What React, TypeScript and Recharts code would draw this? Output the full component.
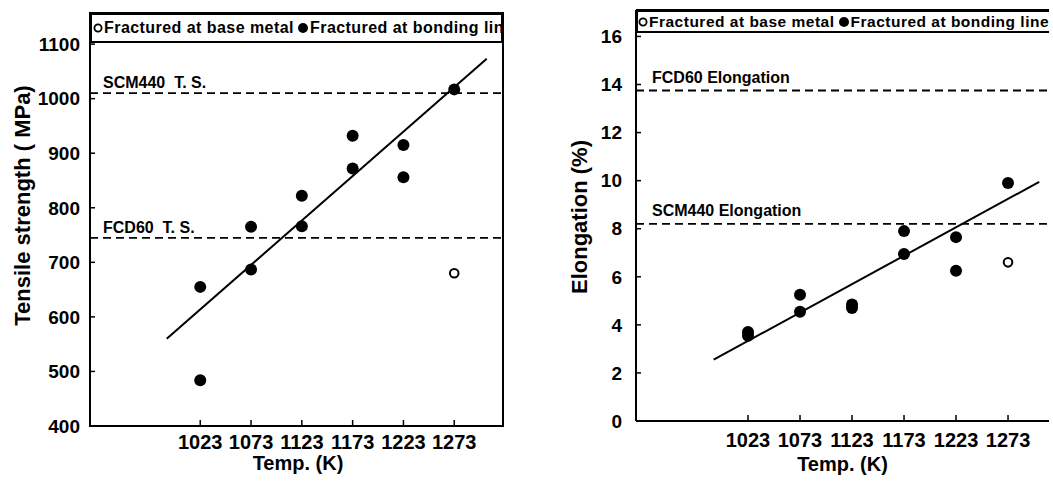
import React from "react";
import {
  ScatterChart, Scatter, XAxis, YAxis, ReferenceLine, ReferenceArea, Legend,
} from "recharts";

const temps = [1023, 1073, 1123, 1173, 1223, 1273];
const legendLabels = ["Fractured at base metal", "Fractured at bonding line"];

// tensile strength (MPa)
const tsBondTemp = [1023, 1023, 1073, 1073, 1123, 1123, 1173, 1173, 1223, 1223, 1273];
const tsBondVal = [655, 484, 765, 687, 822, 766, 932, 872, 915, 856, 1017];
const tsBaseTemp = [1273];
const tsBaseVal = [680];
const tsFitTemp = [990, 1305];
const tsFitVal = [560, 1073];
const tsTicks = [400, 500, 600, 700, 800, 900, 1000, 1100];
const tsRefNames = ["SCM440  T. S.", "FCD60  T. S."];
const tsRefVals = [1010, 745];

// elongation (%)
const elBondTemp = [1023, 1023, 1073, 1073, 1123, 1123, 1173, 1173, 1223, 1223, 1273];
const elBondVal = [3.7, 3.55, 5.25, 4.55, 4.85, 4.7, 7.9, 6.95, 7.65, 6.25, 9.9];
const elBaseTemp = [1273];
const elBaseVal = [6.6];
const elFitTemp = [990, 1303];
const elFitVal = [2.55, 9.95];
const elTicks = [0, 2, 4, 6, 8, 10, 12, 14, 16];
const elRefNames = ["FCD60 Elongation", "SCM440 Elongation"];
const elRefVals = [13.75, 8.2];

const FONT = '"Liberation Sans", Arial, sans-serif';

const pts = (xs: number[], ys: number[]) => xs.map((x, i) => ({ x, y: ys[i] }));

const Dot = (p: any) => <circle cx={p.cx} cy={p.cy} r={6} fill="#000" />;
const Ring = (p: any) => <circle cx={p.cx} cy={p.cy} r={4.3} fill="#fff" stroke="#000" strokeWidth={2} />;

function LineLabel({ viewBox, text, dx, dy }: any) {
  return (
    <text x={viewBox.x + dx} y={viewBox.y + dy} fontFamily={FONT} fontWeight={700} fontSize={16}
      fill="#000" style={{ whiteSpace: "pre" }}>{text}</text>
  );
}

function YTitle({ viewBox, text, dx, dy }: any) {
  const x = viewBox.x + dx;
  const y = viewBox.y + viewBox.height / 2 + dy;
  return (
    <text x={x} y={y} transform={`rotate(-90 ${x} ${y})`} textAnchor="middle" dominantBaseline="central"
      fontFamily={FONT} fontWeight={700} fontSize={22} fill="#000" style={{ whiteSpace: "pre" }}>{text}</text>
  );
}

function XTitle({ viewBox, text, dx, baseline }: any) {
  return (
    <text x={viewBox.x + viewBox.width / 2 + dx} y={baseline} textAnchor="middle"
      fontFamily={FONT} fontWeight={700} fontSize={20} fill="#000">{text}</text>
  );
}

function LegendBox({ size, spacing, pad }: { size: number; spacing: number; pad: number }) {
  return (
    <div style={{
      width: "100%", height: "100%", boxSizing: "border-box", border: "2px solid #000", background: "#fff",
      overflow: "hidden", whiteSpace: "nowrap", display: "flex", alignItems: "center",
      fontFamily: FONT, fontWeight: 700, fontSize: size, letterSpacing: spacing, color: "#000", paddingLeft: pad,
    }}>
      <svg width={10} height={10} style={{ marginRight: 1, flex: "none" }}><circle cx={5} cy={5} r={3.6} fill="#fff" stroke="#000" strokeWidth={1.8} /></svg>
      <span style={{ marginRight: 3 }}>{legendLabels[0]}</span>
      <svg width={12} height={12} style={{ marginRight: 1, flex: "none" }}><circle cx={6} cy={6} r={5} fill="#000" /></svg>
      <span>{legendLabels[1]}</span>
    </div>
  );
}

const tickStyle = (size: number) => ({ fill: "#000", fontSize: size, fontWeight: 700, fontFamily: FONT });

export default function App() {
  const tsX: [number, number] = [914.5, 1321];
  const tsY: [number, number] = [400, 1157];
  const elX: [number, number] = [915.3, 1337.4];
  const elY: [number, number] = [0, 17.1];

  return (
    <div style={{ position: "absolute", left: 0, top: 0, width: 1049, height: 482, overflow: "hidden", background: "#fff" }}>
      <div style={{ position: "absolute", left: 0, top: 0, width: 520, height: 482 }}>
        <ScatterChart width={520} height={482} margin={{ top: 13, right: 17, bottom: 0, left: 0 }}>
          <XAxis dataKey="x" type="number" domain={tsX} ticks={temps} allowDataOverflow height={56}
            tick={tickStyle(20)} tickSize={-6} tickMargin={15}
            axisLine={{ stroke: "#000", strokeWidth: 2 }} tickLine={{ stroke: "#000", strokeWidth: 1.5 }}
            label={<XTitle text="Temp. (K)" dx={1.5} baseline={470} />} />
          <YAxis dataKey="y" type="number" domain={tsY} ticks={tsTicks} allowDataOverflow width={90}
            tick={tickStyle(19)} tickSize={-5} tickMargin={15}
            axisLine={{ stroke: "#000", strokeWidth: 2 }} tickLine={{ stroke: "#000", strokeWidth: 1.5 }}
            label={<YTitle text="Tensile strength ( MPa)" dx={22} dy={-14} />} />
          <ReferenceArea x1={tsX[0]} x2={tsX[1]} y1={tsY[0]} y2={tsY[1]} fill="none" stroke="#000" strokeWidth={2} />
          {tsRefVals.map((v, i) => (
            <ReferenceLine key={i} y={v} stroke="#000" strokeWidth={1.8} strokeDasharray="8 5"
              label={<LineLabel text={tsRefNames[i]} dx={13} dy={-5} />} />
          ))}
          <ReferenceLine segment={pts(tsFitTemp, tsFitVal)} stroke="#000" strokeWidth={2} />
          <Scatter name={legendLabels[1]} data={pts(tsBondTemp, tsBondVal)} shape={Dot} isAnimationActive={false} />
          <Scatter name={legendLabels[0]} data={pts(tsBaseTemp, tsBaseVal)} shape={Ring} isAnimationActive={false} />
          <Legend layout="horizontal" verticalAlign="middle" content={() => <LegendBox size={16} spacing={0.45} pad={1} />}
            wrapperStyle={{ position: "absolute", left: 90, top: 13, width: 413, height: 30, margin: 0 }} />
        </ScatterChart>
      </div>

      <div style={{ position: "absolute", left: 540, top: 0, width: 545, height: 482 }}>
        <ScatterChart width={545} height={482} margin={{ top: 10, right: 10, bottom: 0, left: 0 }}>
          <XAxis dataKey="x" type="number" domain={elX} ticks={temps} allowDataOverflow height={61}
            tick={tickStyle(20)} tickSize={-6} tickMargin={18}
            axisLine={{ stroke: "#000", strokeWidth: 2 }} tickLine={{ stroke: "#000", strokeWidth: 1.5 }}
            label={<XTitle text="Temp. (K)" dx={-13} baseline={471} />} />
          <YAxis dataKey="y" type="number" domain={elY} ticks={elTicks} allowDataOverflow width={96}
            tick={tickStyle(19)} tickSize={-5} tickMargin={19}
            axisLine={{ stroke: "#000", strokeWidth: 2 }} tickLine={{ stroke: "#000", strokeWidth: 1.5 }}
            label={<YTitle text="Elongation (%)" dx={39} dy={1.5} />} />
          <ReferenceLine y={elY[1]} stroke="#000" strokeWidth={2} />
          {elRefVals.map((v, i) => (
            <ReferenceLine key={i} y={v} stroke="#000" strokeWidth={1.8} strokeDasharray="8 5"
              label={<LineLabel text={elRefNames[i]} dx={16} dy={-8} />} />
          ))}
          <ReferenceLine segment={pts(elFitTemp, elFitVal)} stroke="#000" strokeWidth={2} />
          <Scatter name={legendLabels[1]} data={pts(elBondTemp, elBondVal)} shape={Dot} isAnimationActive={false} />
          <Scatter name={legendLabels[0]} data={pts(elBaseTemp, elBaseVal)} shape={Ring} isAnimationActive={false} />
          <Legend layout="horizontal" verticalAlign="middle" content={() => <LegendBox size={15.5} spacing={0.5} pad={0} />}
            wrapperStyle={{ position: "absolute", left: 96, top: 10, width: 439, height: 23, margin: 0 }} />
        </ScatterChart>
      </div>
    </div>
  );
}
